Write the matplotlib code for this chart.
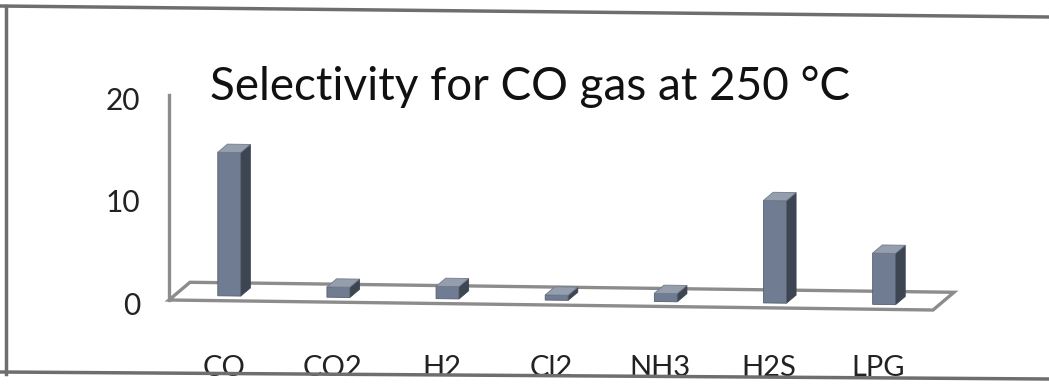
import numpy as np
import matplotlib
matplotlib.use("Agg")
import matplotlib.pyplot as plt
from matplotlib.patches import Polygon
from matplotlib.lines import Line2D
from matplotlib.transforms import Affine2D, IdentityTransform, offset_copy

gases = ["CO", "CO2", "H2", "Cl2", "NH3", "H2S", "LPG"]
selectivity = [14.0, 1.0, 1.2, 0.5, 0.8, 10.0, 5.0]
y_ticks = [0, 10, 20]
title = "Selectivity for CO gas at 250 \u00b0C"

W, H = 1049, 386
plt.rcParams["font.family"] = ["Lato", "DejaVu Sans"]

fig = plt.figure(figsize=(W / 100, H / 100), dpi=100)
fig.patch.set_facecolor("white")

# front plane of the 3-D plot area (pixels from the top-left corner)
left, right, floor_y, top_y = 169, 933, 300, 95
ax = fig.add_axes([left / W, 1 - floor_y / H, (right - left) / W, (floor_y - top_y) / H])
ax.set_xlim(-0.5, len(gases) - 0.5)
ax.set_ylim(0, 20)
ax.set_axis_off()

# depth direction of the floor, in pixels, and a slight shear of the page
depth = np.array([21.0, 18.0])
x0, y0 = ax.transAxes.transform((0, 0))
tilt = Affine2D().translate(-x0, -y0).skew(0, np.arctan(-0.0131)).translate(x0, y0)


def project(x, v, d):
    p = ax.transData.transform((x, v)) + d * depth
    return tilt.transform(p)


def face(points, **kw):
    fig.add_artist(Polygon(np.array(points), closed=True,
                           transform=IdentityTransform(), **kw))


n = len(gases)
edge = "#8c8c8c"

# floor
face([project(-0.5, 0, 0), project(n - 0.5, 0, 0),
      project(n - 0.5, 0, 1), project(-0.5, 0, 1)],
     facecolor="white", edgecolor=edge, lw=2.4, zorder=2)

# value axis line
a, b = project(-0.5, 0, 0), project(-0.5, 20, 0)
fig.add_artist(Line2D([a[0], b[0]], [a[1], b[1]], color=edge, lw=2.4,
                      transform=IdentityTransform(), zorder=2))

# 3-D columns
half = 0.105
d0, d1 = 0.27, 0.73
for i, v in enumerate(selectivity):
    xl, xr = i - half, i + half
    front = [project(xl, 0, d0), project(xr, 0, d0), project(xr, v, d0), project(xl, v, d0)]
    side = [project(xr, 0, d0), project(xr, 0, d1), project(xr, v, d1), project(xr, v, d0)]
    top = [project(xl, v, d0), project(xr, v, d0), project(xr, v, d1), project(xl, v, d1)]
    face(side, facecolor="#3d4552", edgecolor="#3d4552", lw=0.6, zorder=3)
    face(front, facecolor="#6f7c92", edgecolor="#56606f", lw=0.6, zorder=3)
    face(top, facecolor="#959eac", edgecolor="#727b8a", lw=0.6, zorder=3)

# value labels on the left
for t in y_ticks:
    ax.text(-0.5, t, str(t), ha="right", va="center", fontsize=21.5, color="#222222",
            transform=offset_copy(ax.transData, fig, x=-29, y=-6, units="dots"))

# category labels under the floor
for i, g in enumerate(gases):
    ax.text(i, 0, g, ha="center", va="center", fontsize=21, color="#222222",
            transform=offset_copy(ax.transData, fig, x=0, y=-68, units="dots"))

# title, fitted to its width
tt = fig.text(210 / W, 1 - 100 / H, title, ha="left", va="baseline",
              fontsize=34, color="#111111")
fig.canvas.draw()
w = tt.get_window_extent().width
tt.set_fontsize(34 * 640 / w)

# chart border
for xs, ys in [([0, W], [6, 17]), ([6, 6], [6, 374]), ([0, W], [372, 379])]:
    fig.add_artist(Line2D(xs, [H - y for y in ys], color="#6e6e6e", lw=2.5,
                          transform=IdentityTransform(), zorder=5))

fig.savefig("out.png", dpi=100, facecolor="white")
